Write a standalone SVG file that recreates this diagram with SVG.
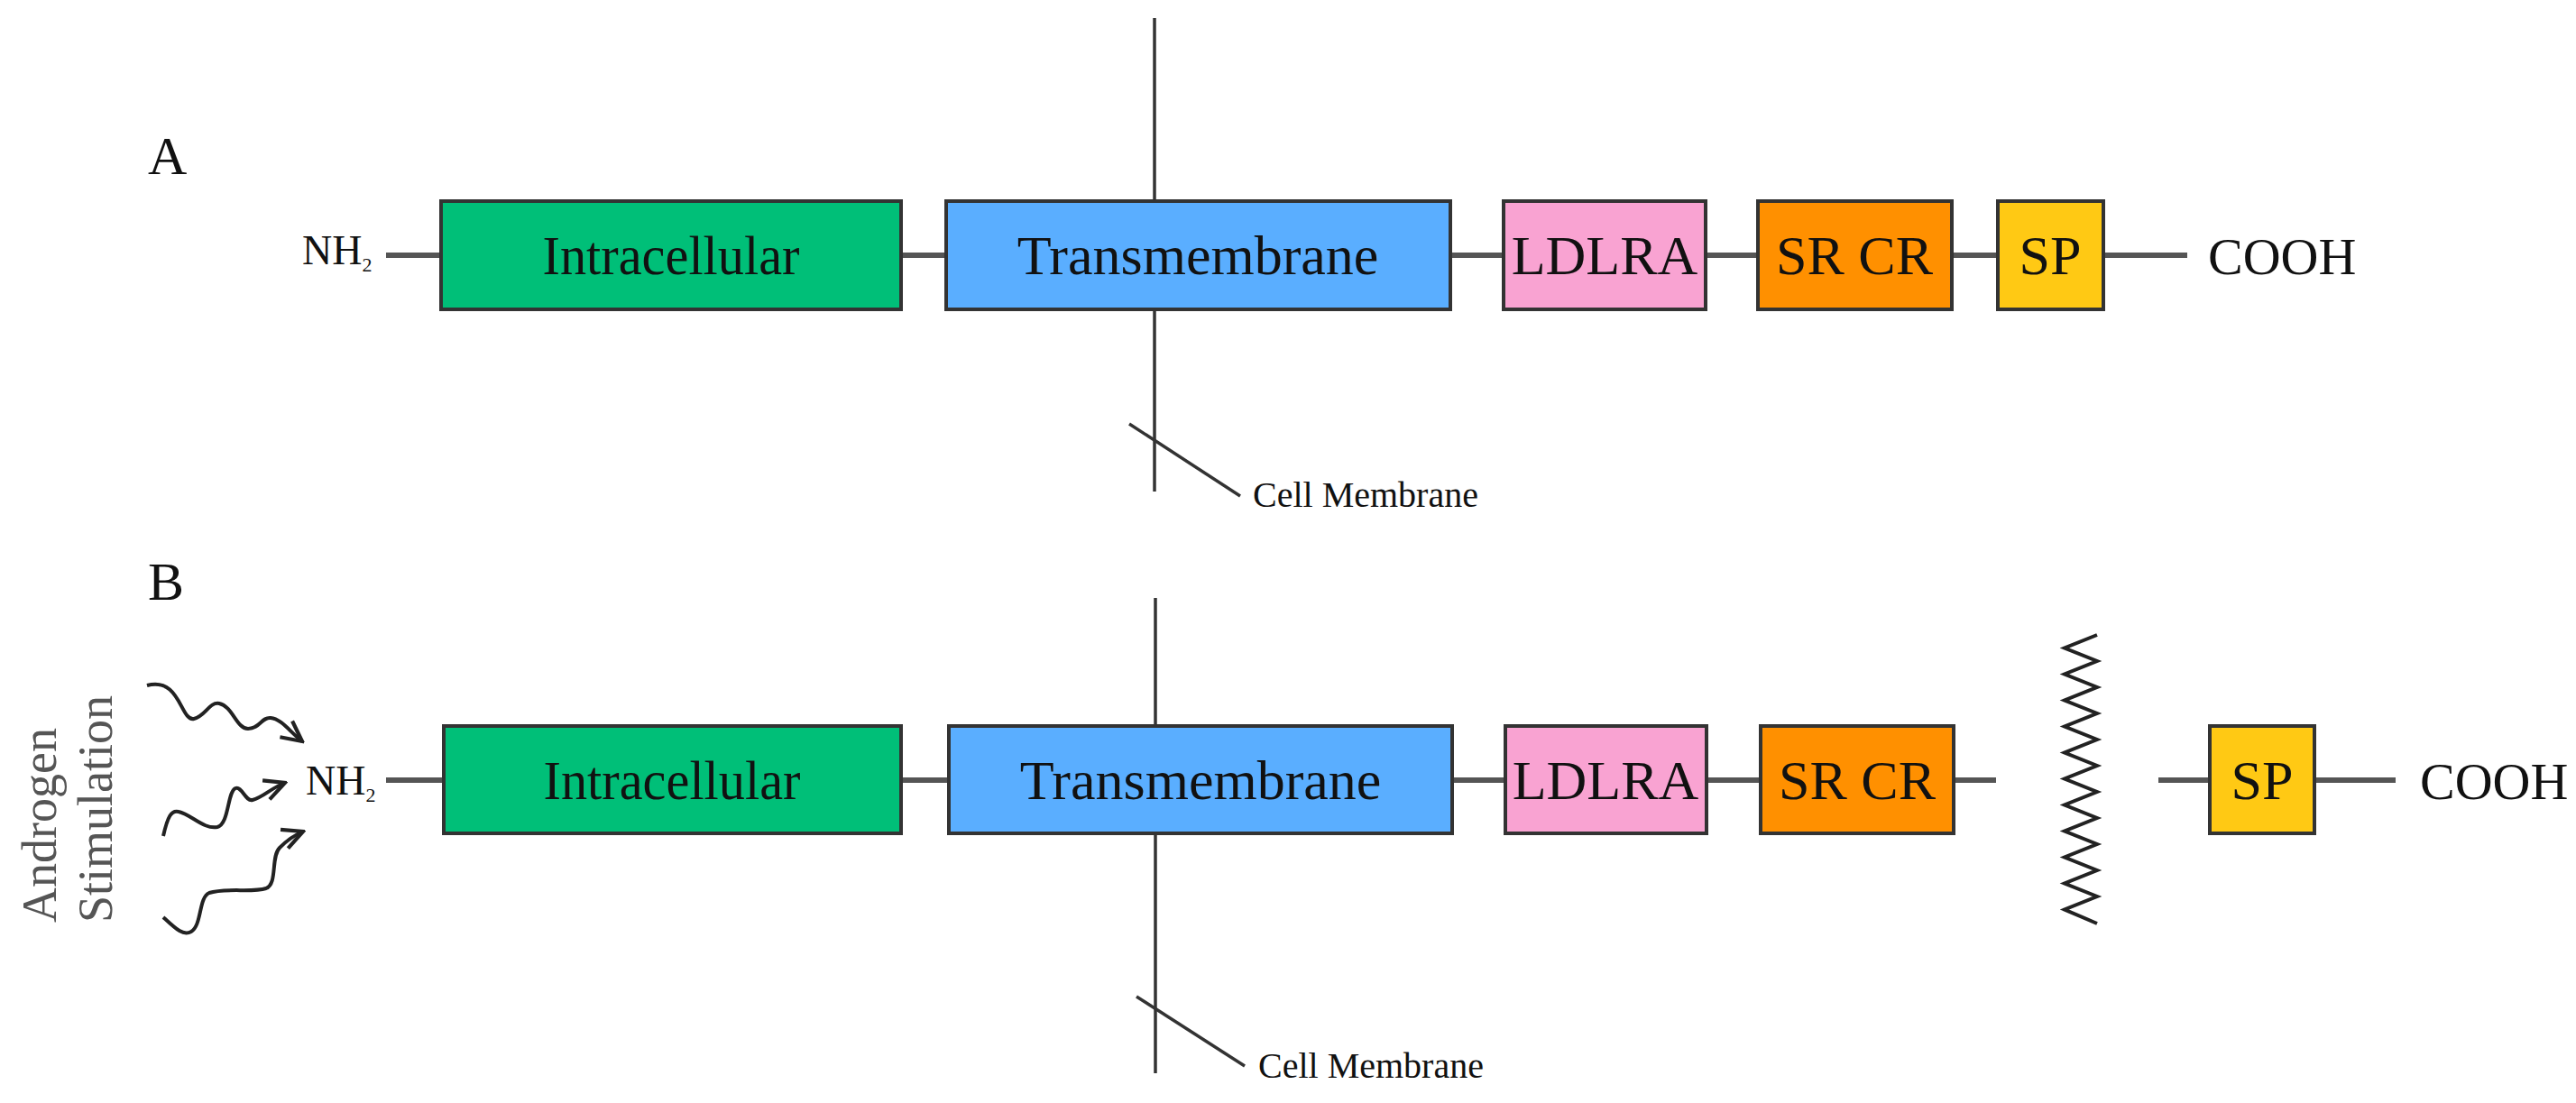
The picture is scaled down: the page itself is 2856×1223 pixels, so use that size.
<svg xmlns="http://www.w3.org/2000/svg" width="2856" height="1223" viewBox="0 0 2856 1223">
<style>
text{font-family:"Liberation Serif","Times New Roman",serif;fill:#111}
.box{stroke:#333;stroke-width:4}
.lbl{font-size:62px;text-anchor:middle}
.conn{stroke:#555;stroke-width:6;fill:none}
.mem{stroke:#333;stroke-width:3.5;fill:none}
.wave{stroke:#222;stroke-width:4;fill:none;marker-end:url(#ah)}
</style>
<defs>
<marker id="ah" viewBox="0 0 20 20" refX="18" refY="10" markerWidth="7" markerHeight="7" markerUnits="strokeWidth" orient="auto"><polyline points="2,2 18,10 2,18" fill="none" stroke="#222" stroke-width="3"/></marker>
</defs>
<rect width="2856" height="1223" fill="#fff"/>
<text x="164" y="193" font-size="60">A</text>
<text x="164" y="665" font-size="60">B</text>
<g id="membranes">
<line class="mem" x1="1280" y1="20" x2="1280" y2="545"/>
<line class="mem" x1="1252" y1="470" x2="1375" y2="550"/>
<text x="1389" y="562" font-size="40">Cell Membrane</text>
<line class="mem" x1="1281" y1="663" x2="1281" y2="1190"/>
<line class="mem" x1="1260" y1="1105" x2="1380" y2="1182"/>
<text x="1395" y="1195" font-size="40">Cell Membrane</text>
</g>
<g id="connectors">
<line class="conn" x1="428" y1="283" x2="489" y2="283"/>
<line class="conn" x1="999" y1="283" x2="1049" y2="283"/>
<line class="conn" x1="1608" y1="283" x2="1667" y2="283"/>
<line class="conn" x1="1891" y1="283" x2="1949" y2="283"/>
<line class="conn" x1="2164" y1="283" x2="2215" y2="283"/>
<line class="conn" x1="2332" y1="283" x2="2425" y2="283"/>
<line class="conn" x1="428" y1="865" x2="492" y2="865"/>
<line class="conn" x1="999" y1="865" x2="1052" y2="865"/>
<line class="conn" x1="1610" y1="865" x2="1669" y2="865"/>
<line class="conn" x1="1892" y1="865" x2="1952" y2="865"/>
<line class="conn" x1="2166" y1="865" x2="2213" y2="865"/>
<line class="conn" x1="2393" y1="865" x2="2450" y2="865"/>
<line class="conn" x1="2566" y1="865" x2="2656" y2="865"/>
<path class="wave" d="M163,760 C200,750 200,800 215,797 C228,794 232,778 243,780 C258,783 262,808 275,808 C288,808 290,795 300,796 C312,797 322,812 335,822"/>
<path class="wave" d="M181,927 C186,905 190,898 198,900 C212,903 226,920 241,917 C254,914 252,878 261,874 C268,871 272,889 280,887 C292,884 300,874 316,868"/>
<path class="wave" d="M181,1017 C195,1030 203,1038 212,1033 C224,1026 220,995 232,990 C250,984 280,990 295,985 C308,980 300,950 310,940 C318,932 326,926 336,922"/>
<polyline fill="none" stroke="#222" stroke-width="4" stroke-linejoin="miter" points="2325,704 2289,718.5 2325,733 2289,747.5 2325,762 2289,776.5 2325,791 2289,805.5 2325,820 2289,834.5 2325,849 2289,863.5 2325,878 2289,892.5 2325,907 2289,921.5 2325,936 2289,950.5 2325,965 2289,979.5 2325,994 2289,1008.5 2325,1024"/>
</g>
<g id="labels">
<text x="335" y="293" font-size="46">NH<tspan font-size="22" dy="8">2</tspan></text>
<text x="2448" y="304" font-size="58">COOH</text>
<text x="339" y="881" font-size="46">NH<tspan font-size="22" dy="8">2</tspan></text>
<text x="2683" y="886" font-size="58">COOH</text>
<text transform="translate(62,915) rotate(-90)" font-size="54" text-anchor="middle" style="fill:#555">Androgen</text>
<text transform="translate(124,897) rotate(-90)" font-size="54" text-anchor="middle" style="fill:#555">Stimulation</text>
</g>
<g id="A-intracellular"><rect class="box" x="489" y="223" width="510" height="120" fill="#00BF78"/><text class="lbl" x="744" y="304" textLength="285" lengthAdjust="spacingAndGlyphs">Intracellular</text></g>
<g id="A-transmembrane"><rect class="box" x="1049" y="223" width="559" height="120" fill="#5AAEFF"/><text class="lbl" x="1328" y="304">Transmembrane</text></g>
<g id="A-ldlra"><rect class="box" x="1667" y="223" width="224" height="120" fill="#F9A3D2"/><text class="lbl" x="1779" y="304">LDLRA</text></g>
<g id="A-srcr"><rect class="box" x="1949" y="223" width="215" height="120" fill="#FF9000"/><text class="lbl" x="2056" y="304">SR CR</text></g>
<g id="A-sp"><rect class="box" x="2215" y="223" width="117" height="120" fill="#FFC914"/><text class="lbl" x="2273" y="304">SP</text></g>
<g id="B-intracellular"><rect class="box" x="492" y="805" width="507" height="119" fill="#00BF78"/><text class="lbl" x="745" y="886" textLength="285" lengthAdjust="spacingAndGlyphs">Intracellular</text></g>
<g id="B-transmembrane"><rect class="box" x="1052" y="805" width="558" height="119" fill="#5AAEFF"/><text class="lbl" x="1331" y="886">Transmembrane</text></g>
<g id="B-ldlra"><rect class="box" x="1669" y="805" width="223" height="119" fill="#F9A3D2"/><text class="lbl" x="1780" y="886">LDLRA</text></g>
<g id="B-srcr"><rect class="box" x="1952" y="805" width="214" height="119" fill="#FF9000"/><text class="lbl" x="2059" y="886">SR CR</text></g>
<g id="B-sp"><rect class="box" x="2450" y="805" width="116" height="119" fill="#FFC914"/><text class="lbl" x="2508" y="886">SP</text></g>
</svg>
